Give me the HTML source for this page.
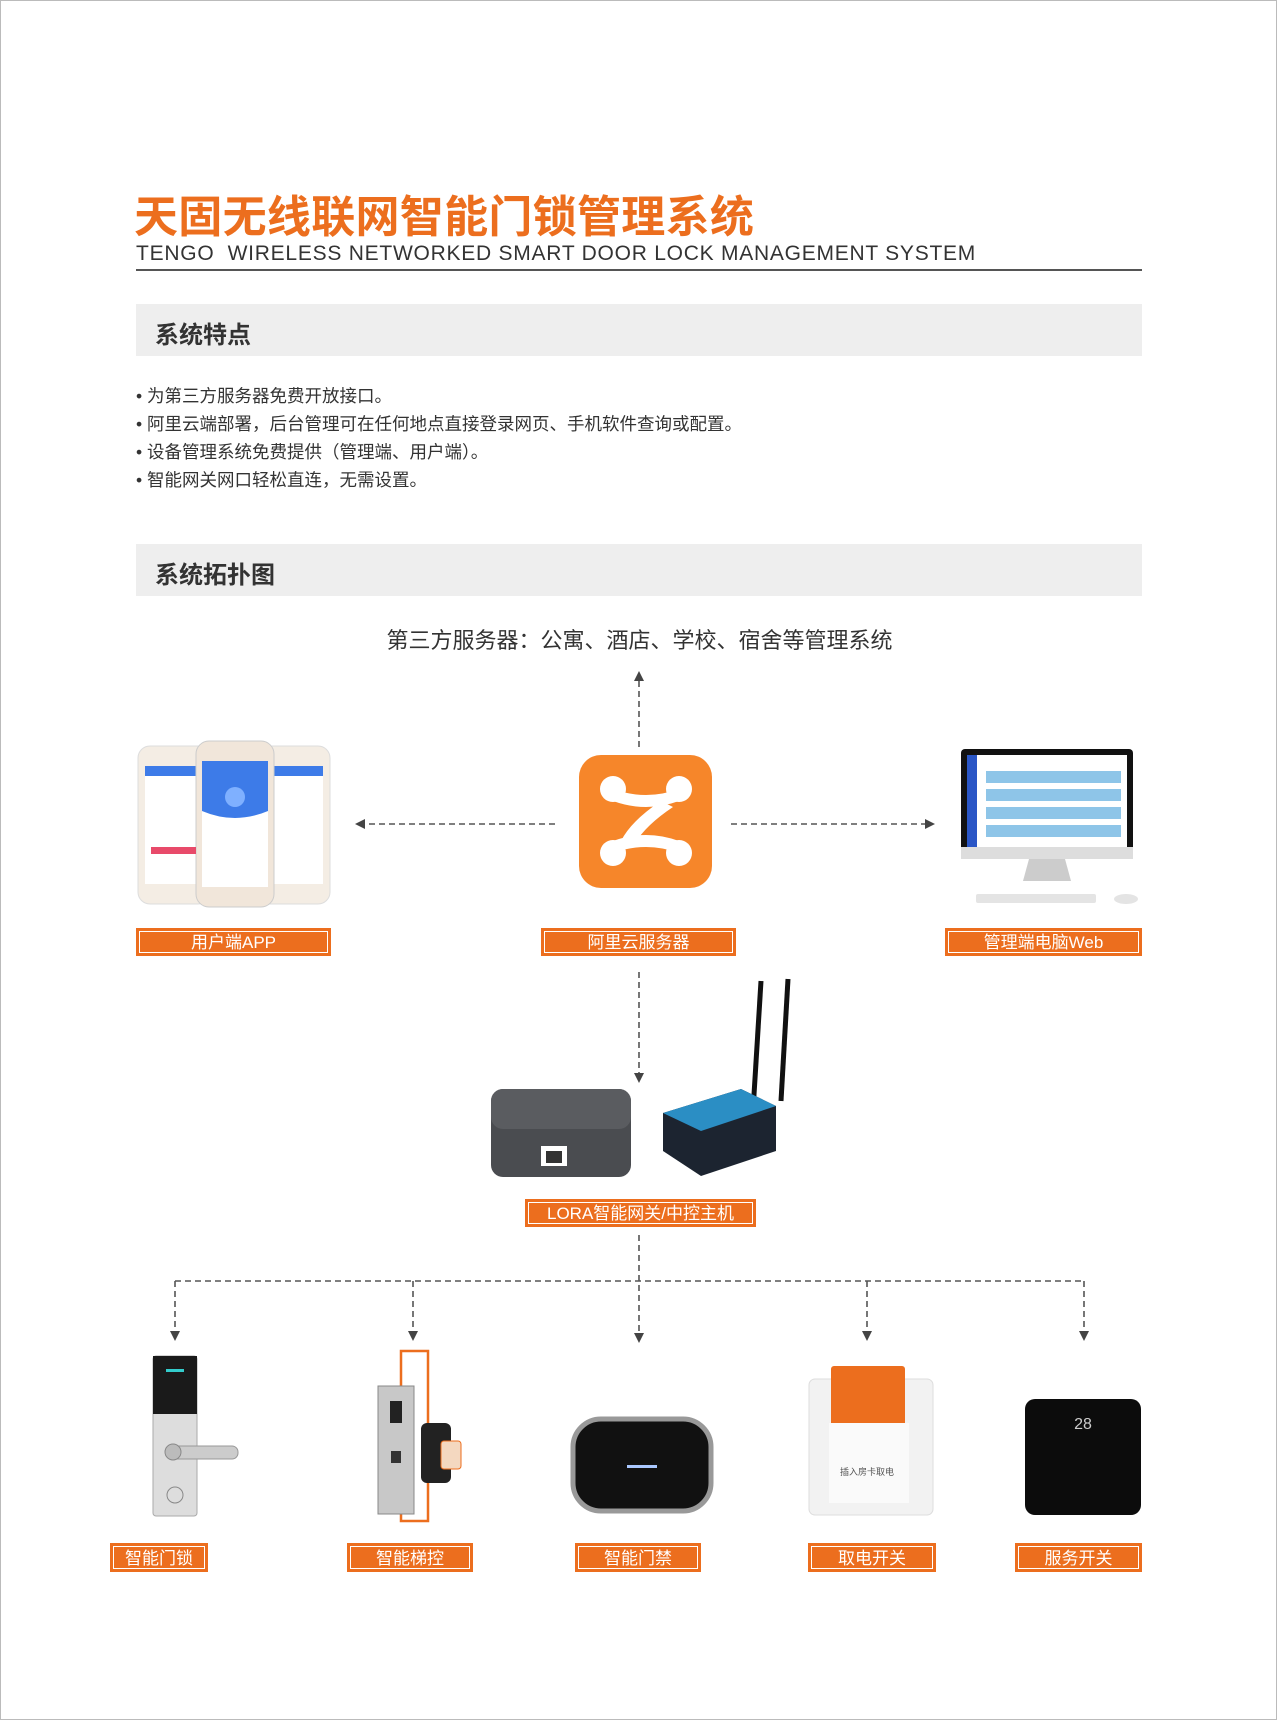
<!DOCTYPE html>
<html><head><meta charset="utf-8"><style>
*{margin:0;padding:0;box-sizing:border-box}
body{width:1277px;height:1720px;background:#fff;position:relative;overflow:hidden;font-family:"Liberation Sans","Noto Sans CJK SC",sans-serif;border:1px solid #bbb}
.a{position:absolute}
.title{left:133px;top:180px;font-size:44px;font-weight:bold;color:#ec6e1e;letter-spacing:0.3px;white-space:nowrap}
.sub{left:135px;top:241px;font-size:21px;color:#333;letter-spacing:0.75px;white-space:nowrap}
.bar{left:135px;width:1006px;background:#eeeeee;height:52px}
.bar span{position:absolute;left:19px;top:11px;font-size:24px;font-weight:bold;color:#333}
.bl{left:135px;font-size:17.5px;color:#333;white-space:nowrap}
.lab{background:#ec6e1e;color:#fff;font-size:17px;line-height:1;text-align:center;border:1px solid #ec6e1e;box-shadow:inset 0 0 0 2px #ec6e1e,inset 0 0 0 3px #fff;display:flex;align-items:center;justify-content:center;padding-top:1px}
</style></head><body>
<div class="a title">天固无线联网智能门锁管理系统</div>
<div class="a sub">TENGO&nbsp; WIRELESS NETWORKED SMART DOOR LOCK MANAGEMENT SYSTEM</div>
<div class="a" style="left:135px;top:268px;width:1006px;height:1.5px;background:#555"></div>
<div class="a bar" style="top:303px"><span>系统特点</span></div>
<div class="a bl" style="top:382px">• 为第三方服务器免费开放接口。</div>
<div class="a bl" style="top:410px">• 阿里云端部署，后台管理可在任何地点直接登录网页、手机软件查询或配置。</div>
<div class="a bl" style="top:438px">• 设备管理系统免费提供（管理端、用户端）。</div>
<div class="a bl" style="top:466px">• 智能网关网口轻松直连，无需设置。</div>
<div class="a bar" style="top:543px"><span>系统拓扑图</span></div>
<div class="a" style="left:0;width:1277px;top:622px;text-align:center;font-size:22px;color:#333">第三方服务器：公寓、酒店、学校、宿舍等管理系统</div>

<svg class="a" style="left:0;top:0" width="1277" height="1720">
<defs><marker id="m" markerWidth="10" markerHeight="10" refX="8" refY="5" orient="auto" markerUnits="userSpaceOnUse"><path d="M0,0 L10,5 L0,10Z" fill="#444"/></marker></defs>
<g stroke="#555" stroke-width="1.6" stroke-dasharray="6,4" fill="none">
<line x1="638" y1="746" x2="638" y2="672" marker-end="url(#m)"/>
<line x1="554" y1="823" x2="356" y2="823" marker-end="url(#m)"/>
<line x1="730" y1="823" x2="932" y2="823" marker-end="url(#m)"/>
<line x1="638" y1="971" x2="638" y2="1080" marker-end="url(#m)"/>
<line x1="638" y1="1234" x2="638" y2="1340" marker-end="url(#m)"/>
<line x1="174" y1="1280" x2="1083" y2="1280"/>
<line x1="174" y1="1280" x2="174" y2="1338" marker-end="url(#m)"/>
<line x1="412" y1="1280" x2="412" y2="1338" marker-end="url(#m)"/>
<line x1="866" y1="1280" x2="866" y2="1338" marker-end="url(#m)"/>
<line x1="1083" y1="1280" x2="1083" y2="1338" marker-end="url(#m)"/>
</g>
<rect x="578" y="754" width="133" height="133" rx="22" fill="#f6862a"/>
<g fill="#fff"><circle cx="612" cy="788" r="13"/><circle cx="678" cy="788" r="13"/><circle cx="612" cy="852" r="13"/><circle cx="678" cy="852" r="13"/>
<path d="M612 788 Q645 800 678 788 L678 800 Q645 812 612 800Z"/><path d="M612 852 Q645 840 678 852 L678 840 Q645 828 612 840Z"/><path d="M660 800 Q630 820 620 840 L632 846 Q642 826 672 806Z"/></g>
<g>
<rect x="137" y="745" width="72" height="158" rx="12" fill="#f4ede4" stroke="#ddd"/><rect x="144" y="765" width="58" height="118" fill="#fff"/><rect x="144" y="765" width="58" height="10" fill="#3d7be8"/>
<rect x="257" y="745" width="72" height="158" rx="12" fill="#f4ede4" stroke="#ddd"/><rect x="264" y="765" width="58" height="118" fill="#fff"/><rect x="264" y="765" width="58" height="10" fill="#3d7be8"/>
<rect x="195" y="740" width="78" height="166" rx="13" fill="#f1e6da" stroke="#ccc"/><rect x="201" y="760" width="66" height="126" fill="#fff"/><path d="M201 760h66v50q-33 14-66 0z" fill="#3d7be8"/><circle cx="234" cy="796" r="10" fill="#7fb0ff"/>
<rect x="150" y="846" width="45" height="7" fill="#e84a6a"/>
</g>
<rect x="960" y="748" width="172" height="110" rx="4" fill="#111"/><rect x="966" y="754" width="160" height="92" fill="#fff"/>
<rect x="966" y="754" width="10" height="92" fill="#2a56c6"/>
<g fill="#8ec5e8"><rect x="985" y="770" width="135" height="12"/><rect x="985" y="788" width="135" height="12"/><rect x="985" y="806" width="135" height="12"/><rect x="985" y="824" width="135" height="12"/></g>
<rect x="960" y="846" width="172" height="12" fill="#ddd"/><path d="M1028 858h36l6 22h-48z" fill="#ccc"/>
<rect x="975" y="893" width="120" height="9" rx="2" fill="#e4e4e4"/><ellipse cx="1125" cy="898" rx="12" ry="5" fill="#e4e4e4"/>
<rect x="490" y="1088" width="140" height="88" rx="12" fill="#4a4c50"/><rect x="490" y="1088" width="140" height="40" rx="12" fill="#5a5c60"/>
<rect x="540" y="1145" width="26" height="20" fill="#fff"/><rect x="545" y="1150" width="16" height="12" fill="#333"/>
<line x1="760" y1="980" x2="752" y2="1110" stroke="#111" stroke-width="5"/><line x1="787" y1="978" x2="780" y2="1100" stroke="#111" stroke-width="5"/>
<path d="M662 1112 L740 1088 L775 1105 L775 1150 L700 1175 L662 1150Z" fill="#1c2430"/><path d="M662 1112 L740 1088 L775 1105 L700 1130Z" fill="#2b8ec4"/>
<rect x="152" y="1355" width="44" height="160" rx="3" fill="#ddd" stroke="#aaa"/><rect x="152" y="1355" width="44" height="58" fill="#1a1a1a"/>
<rect x="165" y="1368" width="18" height="3" fill="#3cc"/><rect x="165" y="1445" width="72" height="13" rx="6" fill="#ccc" stroke="#999"/><circle cx="172" cy="1451" r="8" fill="#bbb" stroke="#888"/><circle cx="174" cy="1494" r="8" fill="none" stroke="#888"/>
<rect x="400" y="1350" width="27" height="170" fill="none" stroke="#ec6e1e" stroke-width="2.5"/>
<rect x="377" y="1385" width="36" height="128" fill="#c8c8c8" stroke="#888"/><rect x="389" y="1400" width="12" height="22" fill="#222"/><rect x="390" y="1450" width="10" height="12" fill="#333"/>
<rect x="420" y="1422" width="30" height="60" rx="6" fill="#222"/><rect x="440" y="1440" width="20" height="28" rx="3" fill="#f4d8c0" stroke="#ec6e1e"/>
<rect x="572" y="1418" width="138" height="92" rx="28" fill="#111" stroke="#999" stroke-width="5"/><rect x="626" y="1464" width="30" height="3" fill="#aac8ff"/>
<rect x="808" y="1378" width="124" height="136" rx="6" fill="#f2f2f2" stroke="#ddd"/><rect x="830" y="1365" width="74" height="85" rx="3" fill="#ec6e1e"/><rect x="828" y="1422" width="80" height="80" fill="#fafafa"/>
<text x="866" y="1474" font-size="9" text-anchor="middle" fill="#555">插入房卡取电</text>
<rect x="1024" y="1398" width="116" height="116" rx="10" fill="#0c0c0c"/><text x="1082" y="1428" font-size="16" fill="#ccc" text-anchor="middle">28</text>
</svg>

<div class="a lab" style="left:135px;top:927px;width:195px;height:28px">用户端APP</div>
<div class="a lab" style="left:540px;top:927px;width:195px;height:28px">阿里云服务器</div>
<div class="a lab" style="left:944px;top:927px;width:197px;height:28px">管理端电脑Web</div>
<div class="a lab" style="left:524px;top:1198px;width:231px;height:28px">LORA智能网关/中控主机</div>
<div class="a lab" style="left:109px;top:1542px;width:98px;height:29px">智能门锁</div>
<div class="a lab" style="left:346px;top:1542px;width:126px;height:29px">智能梯控</div>
<div class="a lab" style="left:574px;top:1542px;width:126px;height:29px">智能门禁</div>
<div class="a lab" style="left:807px;top:1542px;width:128px;height:29px">取电开关</div>
<div class="a lab" style="left:1014px;top:1542px;width:127px;height:29px">服务开关</div>
</body></html>
